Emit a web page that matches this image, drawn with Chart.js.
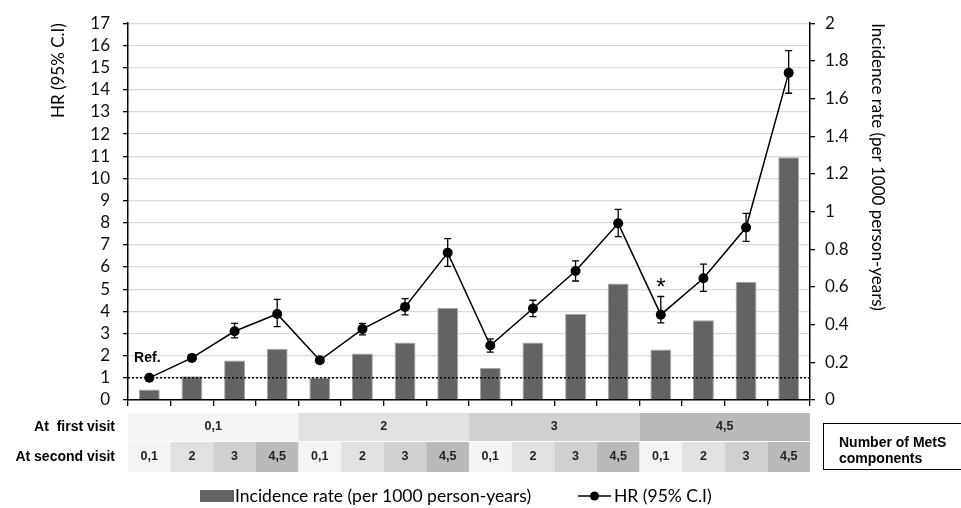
<!DOCTYPE html>
<html lang="en">
  <head>
    <meta charset="UTF-8" />
    <title>HR and incidence rate by MetS components</title>
    <script src="https://cdn.jsdelivr.net/npm/chart.js"></script>
    <style>
      html,
      body {
        margin: 0;
        padding: 0;
        background-color: #ffffff;
      }
    </style>
  </head>
  <body>
    <canvas id="metsChart" width="961" height="508"></canvas>
    <script>
      // Number of MetS components at each visit
      const firstVisitGroups = ["0,1", "2", "3", "4,5"];
      const secondVisitGroups = ["0,1", "2", "3", "4,5"];

      // HR (95% C.I), left axis
      const hrValues = [1.0, 1.9, 3.1, 3.88, 1.79, 3.2, 4.2, 6.64, 2.46, 4.13, 5.82, 7.97, 3.85, 5.49, 7.78, 14.76];
      const hrLower = [null, 1.75, 2.8, 3.31, 1.68, 2.94, 3.84, 6.03, 2.16, 3.76, 5.37, 7.37, 3.48, 4.9, 7.16, 13.84];
      const hrUpper = [null, 2.04, 3.46, 4.54, 1.9, 3.46, 4.57, 7.28, 2.76, 4.5, 6.28, 8.6, 4.67, 6.13, 8.42, 15.76];

      // Incidence rate (per 1000 person-years), right axis
      const incidenceRates = [0.056, 0.126, 0.209, 0.272, 0.119, 0.247, 0.305, 0.488, 0.17, 0.305, 0.458, 0.618, 0.268, 0.423, 0.628, 1.289];

      const hrTicks = ["0", "1", "2", "3", "4", "5", "6", "7", "8", "9", "10", "11", "12", "13", "14", "15", "16", "17"];
      const rateTicks = ["0", "0.2", "0.4", "0.6", "0.8", "1", "1.2", "1.4", "1.6", "1.8", "2"];

      // significant point marked with *
      const starIndex = 12;

      const labels = [];
      firstVisitGroups.forEach((f) => {
        secondVisitGroups.forEach((s) => labels.push(f + " / " + s));
      });

      const barColor = "#636363";
      const rowColors = ["#f3f4f3", "#e1e1e1", "#cfd0cf", "#bababa"];
      const calibriLike = "Lato, 'Open Sans', sans-serif";
      const arial = "'Liberation Sans', Arial, sans-serif";

      // error bars, the HR=1 reference line and the two annotations
      const errorBarPlugin = {
        id: "errorBars",
        afterDatasetsDraw(chart) {
          const ctx = chart.ctx;
          const xs = chart.scales.x;
          const ys = chart.scales.y;
          const area = chart.chartArea;

          // dotted reference line
          const yRef = ys.getPixelForValue(1);
          ctx.save();
          ctx.strokeStyle = "#000";
          ctx.lineWidth = 1.5;
          ctx.setLineDash([2, 2]);
          ctx.beginPath();
          ctx.moveTo(area.left, yRef);
          ctx.lineTo(area.right, yRef);
          ctx.stroke();
          ctx.setLineDash([]);

          ctx.lineWidth = 1.3;
          hrValues.forEach((v, i) => {
            if (hrLower[i] == null) return;
            const x = xs.getPixelForValue(i);
            const y1 = ys.getPixelForValue(hrLower[i]);
            const y2 = ys.getPixelForValue(hrUpper[i]);
            ctx.beginPath();
            ctx.moveTo(x, y1);
            ctx.lineTo(x, y2);
            ctx.moveTo(x - 3.5, y1);
            ctx.lineTo(x + 3.5, y1);
            ctx.moveTo(x - 3.5, y2);
            ctx.lineTo(x + 3.5, y2);
            ctx.stroke();
          });

          ctx.fillStyle = "#000";
          ctx.font = "bold 14px " + arial;
          ctx.textAlign = "center";
          ctx.textBaseline = "middle";
          ctx.fillText("Ref.", xs.getPixelForValue(0) - 2, yRef - 20);

          ctx.font = "24px " + arial;
          ctx.textBaseline = "alphabetic";
          ctx.fillText("*", xs.getPixelForValue(starIndex), ys.getPixelForValue(hrUpper[starIndex]) - 1);
          ctx.restore();
        },
      };

      // table of MetS components under the x axis, plus the legend
      const tablePlugin = {
        id: "metsTable",
        afterDraw(chart) {
          const ctx = chart.ctx;
          const xs = chart.scales.x;
          const half = (xs.getPixelForValue(1) - xs.getPixelForValue(0)) / 2;
          const row1Top = 413;
          const row1H = 28;
          const row2Top = 442;
          const row2H = 30;
          const n = secondVisitGroups.length;

          ctx.save();
          ctx.textAlign = "center";
          ctx.textBaseline = "middle";
          firstVisitGroups.forEach((g, gi) => {
            const x0 = xs.getPixelForValue(gi * n) - half;
            const x1 = xs.getPixelForValue(gi * n + n - 1) + half;
            ctx.fillStyle = rowColors[gi];
            ctx.fillRect(x0, row1Top, x1 - x0, row1H);
            ctx.fillStyle = "#222";
            ctx.font = "bold 12.5px " + arial;
            ctx.fillText(g, (x0 + x1) / 2, row1Top + row1H / 2);

            secondVisitGroups.forEach((s, si) => {
              const c = xs.getPixelForValue(gi * n + si);
              ctx.fillStyle = rowColors[si];
              ctx.fillRect(c - half, row2Top, half * 2, row2H);
              ctx.fillStyle = "#222";
              ctx.fillText(s, c, row2Top + row2H / 2);
            });
          });

          ctx.fillStyle = "#000";
          ctx.font = "bold 14px " + arial;
          ctx.textAlign = "right";
          ctx.fillText("At  first visit", 115, row1Top + row1H / 2);
          ctx.fillText("At second visit", 115, row2Top + row2H / 2);

          // box on the right
          ctx.strokeStyle = "#000";
          ctx.lineWidth = 1;
          ctx.strokeRect(823.5, 423.5, 140, 46);
          ctx.textAlign = "left";
          ctx.textBaseline = "alphabetic";
          ctx.fillText("Number of MetS", 839, 447);
          ctx.fillText("components", 839, 463);

          // legend
          ctx.font = "17.5px " + calibriLike;
          ctx.textBaseline = "middle";
          ctx.fillStyle = barColor;
          ctx.fillRect(200, 490, 34, 12);
          ctx.fillStyle = "#000";
          ctx.fillText("Incidence rate (per 1000 person-years)", 235, 496);

          ctx.strokeStyle = "#000";
          ctx.lineWidth = 1.5;
          ctx.beginPath();
          ctx.moveTo(578, 496);
          ctx.lineTo(611, 496);
          ctx.stroke();
          ctx.beginPath();
          ctx.arc(594.5, 496, 4.5, 0, Math.PI * 2);
          ctx.fill();
          ctx.fillText("HR (95% C.I)", 614, 496);
          ctx.restore();
        },
      };

      const ctx = document.getElementById("metsChart").getContext("2d");

      new Chart(ctx, {
        type: "bar",
        data: {
          labels: labels,
          datasets: [
            {
              type: "line",
              label: "HR (95% C.I)",
              data: hrValues,
              yAxisID: "y",
              borderColor: "#000",
              borderWidth: 1.5,
              backgroundColor: "#000",
              pointRadius: 5,
              pointBackgroundColor: "#000",
              pointBorderWidth: 0,
              tension: 0,
              order: 0,
            },
            {
              label: "Incidence rate (per 1000 person-years)",
              data: incidenceRates,
              yAxisID: "y1",
              backgroundColor: barColor,
              borderColor: "#a6a6a6",
              borderWidth: 1,
              barPercentage: 0.49,
              categoryPercentage: 1,
              order: 1,
            },
          ],
        },
        options: {
          responsive: false,
          animation: false,
          layout: {
            padding: { top: 20, left: 0, right: 0, bottom: 0 },
          },
          plugins: {
            legend: { display: false },
            tooltip: { enabled: false },
          },
          scales: {
            x: {
              offset: true,
              afterFit: function (scale) {
                scale.height = 108;
              },
              grid: {
                offset: true,
                drawOnChartArea: false,
                drawTicks: true,
                tickLength: 6,
                color: "#000",
                lineWidth: 1.3,
              },
              border: { color: "#000", width: 1.5 },
              ticks: { display: false },
            },
            y: {
              position: "left",
              min: 0,
              max: 17,
              afterFit: function (scale) {
                scale.width = 128;
              },
              title: {
                display: true,
                text: "HR (95% C.I)",
                align: "end",
                color: "#000",
                font: { family: calibriLike, size: 17 },
                padding: { top: 48, bottom: 0 },
              },
              grid: {
                color: "#d9d9d9",
                lineWidth: 1.3,
                tickColor: "#000",
                tickLength: 5,
              },
              border: { color: "#000", width: 1.5 },
              ticks: {
                stepSize: 1,
                autoSkip: false,
                padding: 13,
                color: "#111",
                font: { family: calibriLike, size: 17 },
                callback: function (value, index) {
                  return hrTicks[index];
                },
              },
            },
            y1: {
              position: "right",
              min: 0,
              max: 2,
              afterFit: function (scale) {
                scale.width = 151;
              },
              title: {
                display: true,
                text: "Incidence rate (per 1000 person-years)",
                align: "end",
                color: "#000",
                font: { family: calibriLike, size: 17 },
                padding: { top: 73, bottom: 0 },
              },
              grid: {
                drawOnChartArea: false,
                tickColor: "#000",
                tickLength: 5,
                lineWidth: 1.3,
              },
              border: { color: "#000", width: 1.5 },
              ticks: {
                stepSize: 0.2,
                autoSkip: false,
                padding: 10,
                color: "#111",
                font: { family: calibriLike, size: 17 },
                callback: function (value, index) {
                  return rateTicks[index];
                },
              },
            },
          },
        },
        plugins: [errorBarPlugin, tablePlugin],
      });
    </script>
  </body>
</html>
